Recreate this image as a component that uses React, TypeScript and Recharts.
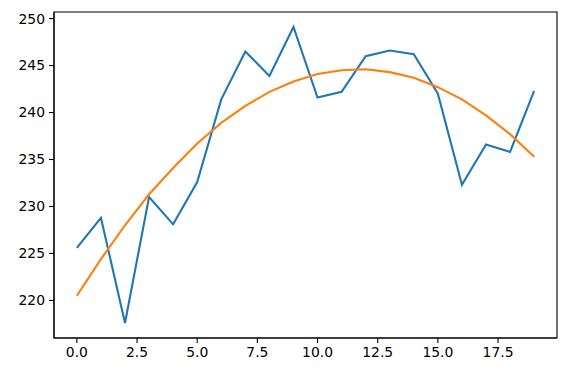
import { LineChart, Line, XAxis, YAxis, ReferenceArea } from "recharts";

// x positions 0..19
const steps = [0, 1, 2, 3, 4, 5, 6, 7, 8, 9, 10, 11, 12, 13, 14, 15, 16, 17, 18, 19];

// raw series (blue)
const observed = [
  225.6, 228.8, 217.6, 231.0, 228.1, 232.6, 241.4, 246.5, 243.9, 249.1,
  241.6, 242.2, 246.0, 246.6, 246.2, 242.0, 232.3, 236.6, 235.8, 242.3,
];

// smoothed trend (orange)
const trend = [
  220.5, 224.4, 228.0, 231.3, 234.1, 236.7, 238.9, 240.7, 242.2, 243.3,
  244.1, 244.5, 244.6, 244.3, 243.7, 242.7, 241.4, 239.7, 237.7, 235.3,
];

const xTicks = [0, 2.5, 5, 7.5, 10, 12.5, 15, 17.5];
const yTicks = [220, 225, 230, 235, 240, 245, 250];

const data = steps.map((x, i) => ({ x, observed: observed[i], trend: trend[i] }));

const X_DOMAIN: [number, number] = [-0.95, 19.95];
const Y_DOMAIN: [number, number] = [216.0, 250.7];

const tickStyle = { fill: "#000", fontSize: 13.9, fontFamily: "DejaVu Sans" };

const App = () => {
  return (
    <div style={{ position: "absolute", left: 0, top: 0, width: 573, height: 373, background: "#fff" }}>
      <LineChart width={573} height={373} data={data} margin={{ top: 12, right: 16, bottom: 0, left: 0 }}>
        <XAxis
          dataKey="x"
          type="number"
          domain={X_DOMAIN}
          ticks={xTicks}
          allowDataOverflow
          tickFormatter={(v: number) => v.toFixed(1)}
          height={35}
          tick={tickStyle}
          tickSize={5}
          tickMargin={4}
          stroke="#000"
          axisLine={{ stroke: "#000", strokeWidth: 1.1 }}
          tickLine={{ stroke: "#000", strokeWidth: 1.1 }}
        />
        <YAxis
          type="number"
          domain={Y_DOMAIN}
          ticks={yTicks}
          allowDataOverflow
          width={54}
          tick={tickStyle}
          tickSize={5}
          tickMargin={4}
          stroke="#000"
          axisLine={{ stroke: "#000", strokeWidth: 1.1 }}
          tickLine={{ stroke: "#000", strokeWidth: 1.1 }}
        />
        {/* frame around the plot */}
        <ReferenceArea
          x1={X_DOMAIN[0]}
          x2={X_DOMAIN[1]}
          y1={Y_DOMAIN[0]}
          y2={Y_DOMAIN[1]}
          fill="none"
          stroke="#000"
          strokeWidth={1.1}
          ifOverflow="visible"
        />
        <Line
          dataKey="observed"
          stroke="#1f77b4"
          strokeWidth={2.1}
          dot={false}
          type="linear"
          isAnimationActive={false}
        />
        <Line
          dataKey="trend"
          stroke="#ff7f0e"
          strokeWidth={2.1}
          dot={false}
          type="linear"
          isAnimationActive={false}
        />
      </LineChart>
    </div>
  );
};

export default App;
